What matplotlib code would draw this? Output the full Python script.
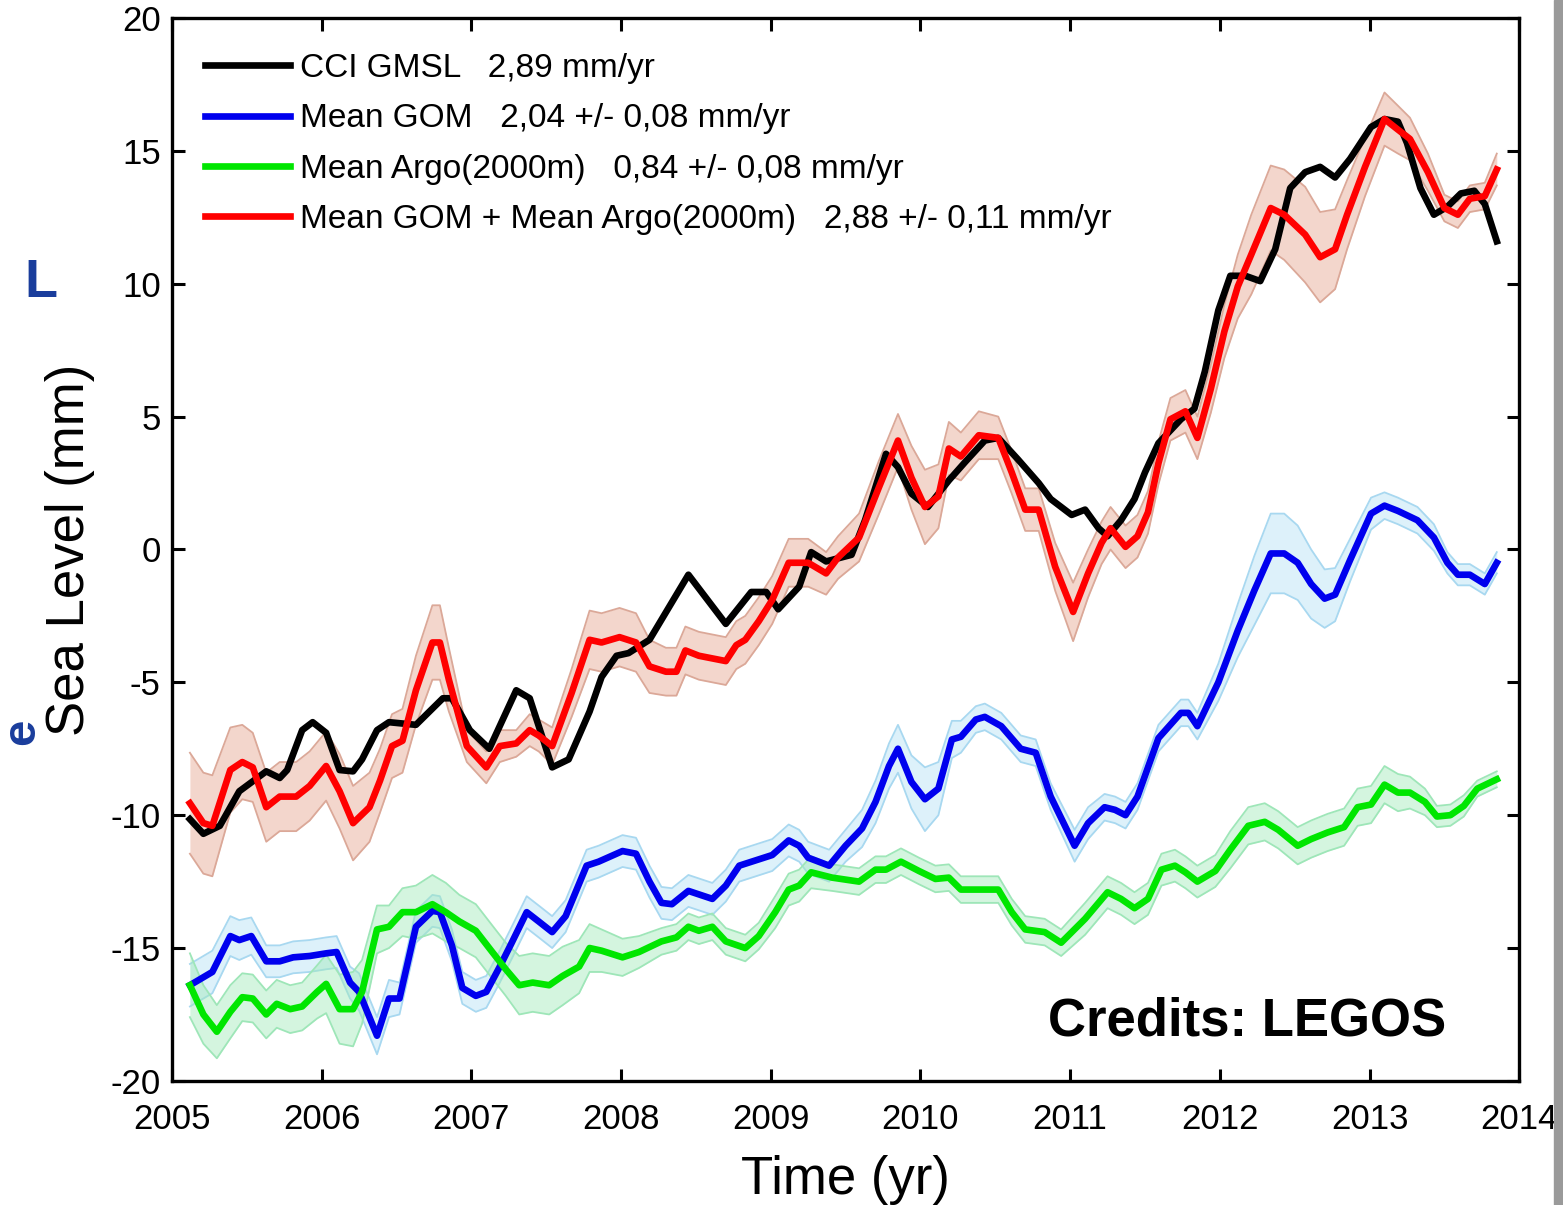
import matplotlib
matplotlib.use("Agg")
import matplotlib.pyplot as plt
from matplotlib.patches import Rectangle
import numpy as np

plt.rcParams['font.family'] = ['Liberation Sans', 'DejaVu Sans']
plt.rcParams['axes.unicode_minus'] = False

# CCI GMSL (black)
t_gmsl = [2005.12, 2005.21, 2005.32, 2005.45, 2005.63, 2005.72, 2005.77, 2005.87, 2005.94, 2006.03,
          2006.12, 2006.21, 2006.27, 2006.37, 2006.45, 2006.63, 2006.81, 2006.87, 2006.99, 2007.12,
          2007.21, 2007.30, 2007.39, 2007.54, 2007.65, 2007.79, 2007.87, 2007.97, 2008.05, 2008.19,
          2008.45, 2008.70, 2008.87, 2008.97, 2009.05, 2009.19, 2009.27, 2009.37, 2009.54, 2009.63,
          2009.77, 2009.85, 2009.94, 2010.05, 2010.19, 2010.30, 2010.43, 2010.52, 2010.65, 2010.79,
          2010.87, 2011.01, 2011.10, 2011.19, 2011.25, 2011.34, 2011.43, 2011.50, 2011.59, 2011.74,
          2011.83, 2011.90, 2011.99, 2012.07, 2012.17, 2012.27, 2012.37, 2012.47, 2012.57, 2012.67,
          2012.77, 2012.87, 2013.01, 2013.10, 2013.19, 2013.25, 2013.34, 2013.43, 2013.52, 2013.61,
          2013.70, 2013.77, 2013.85]
gmsl = [-10.15, -10.7, -10.4, -9.1, -8.35, -8.6, -8.3, -6.8, -6.5, -6.9,
        -8.3, -8.35, -7.9, -6.8, -6.5, -6.6, -5.6, -5.6, -6.8, -7.5,
        -6.4, -5.3, -5.6, -8.2, -7.9, -6.1, -4.8, -4.0, -3.9, -3.4,
        -0.95, -2.8, -1.6, -1.6, -2.25, -1.4, -0.1, -0.45, -0.2, 1.1,
        3.6, 3.1, 2.1, 1.6, 2.6, 3.3, 4.1, 4.2, 3.4, 2.5,
        1.9, 1.3, 1.5, 0.8, 0.5, 1.1, 1.9, 2.9, 4.0, 4.9,
        5.3, 6.7, 9.0, 10.3, 10.3, 10.1, 11.3, 13.6, 14.2, 14.4,
        14.0, 14.7, 15.9, 16.2, 16.1, 15.3, 13.6, 12.6, 12.9, 13.4,
        13.5, 13.0, 11.6]

# Mean GOM + Mean Argo(2000m) (red)
t_sum = [2005.12, 2005.21, 2005.27, 2005.39, 2005.47, 2005.54, 2005.63, 2005.72, 2005.83, 2005.92,
         2006.03, 2006.12, 2006.21, 2006.32, 2006.39, 2006.47, 2006.54, 2006.63, 2006.74, 2006.79,
         2006.85, 2006.97, 2007.10, 2007.19, 2007.30, 2007.39, 2007.45, 2007.54, 2007.67, 2007.79,
         2007.87, 2007.99, 2008.10, 2008.19, 2008.30, 2008.37, 2008.43, 2008.52, 2008.61, 2008.70,
         2008.77, 2008.83, 2008.92, 2009.01, 2009.12, 2009.25, 2009.37, 2009.45, 2009.59, 2009.72,
         2009.85, 2009.94, 2010.03, 2010.12, 2010.19, 2010.27, 2010.39, 2010.52, 2010.61, 2010.70,
         2010.79, 2010.90, 2011.02, 2011.12, 2011.21, 2011.27, 2011.37, 2011.45, 2011.52, 2011.59,
         2011.67, 2011.77, 2011.85, 2011.94, 2012.03, 2012.12, 2012.21, 2012.34, 2012.43, 2012.57,
         2012.67, 2012.77, 2012.85, 2012.97, 2013.10, 2013.19, 2013.27, 2013.39, 2013.50, 2013.59,
         2013.67, 2013.77, 2013.85]
gom_argo = [-9.55, -10.3, -10.4, -8.3, -8.0, -8.2, -9.7, -9.3, -9.3, -8.9,
            -8.15, -9.1, -10.3, -9.7, -8.7, -7.4, -7.2, -5.3, -3.5, -3.5,
            -4.9, -7.4, -8.2, -7.4, -7.3, -6.8, -7.0, -7.4, -5.4, -3.4,
            -3.5, -3.3, -3.5, -4.4, -4.6, -4.6, -3.8, -4.0, -4.1, -4.2,
            -3.6, -3.4, -2.7, -1.9, -0.5, -0.5, -0.9, -0.3, 0.45, 2.3,
            4.1, 2.7, 1.6, 2.0, 3.8, 3.5, 4.3, 4.2, 2.9, 1.5,
            1.5, -0.65, -2.35, -0.9, 0.25, 0.8, 0.1, 0.5, 1.4, 3.25,
            4.9, 5.2, 4.2, 6.05, 8.2, 9.9, 11.1, 12.85, 12.6, 11.85,
            11.0, 11.3, 12.6, 14.4, 16.2, 15.8, 15.45, 14.2, 12.85, 12.6,
            13.2, 13.3, 14.3]
gom_argo_err = [1.9, 1.9, 1.9, 1.6, 1.4, 1.3, 1.3, 1.3, 1.3, 1.3,
                1.3, 1.4, 1.4, 1.3, 1.2, 1.2, 1.2, 1.3, 1.4, 1.4,
                1.2, 0.6, 0.6, 0.6, 0.5, 0.6, 0.6, 0.7, 0.9, 1.1,
                1.1, 1.1, 1.1, 1.0, 0.9, 0.9, 0.9, 0.9, 0.9, 0.9,
                0.9, 0.9, 0.9, 0.9, 0.9, 0.9, 0.8, 0.8, 0.9, 1.0,
                1.0, 1.2, 1.4, 1.2, 1.0, 0.9, 0.9, 0.8, 0.8, 0.8,
                0.8, 0.9, 1.1, 0.9, 0.8, 0.8, 0.8, 0.8, 0.8, 0.8,
                0.8, 0.8, 0.8, 0.9, 1.0, 1.2, 1.5, 1.6, 1.7, 1.8,
                1.7, 1.5, 1.3, 1.1, 1.0, 0.9, 0.8, 0.7, 0.5, 0.5,
                0.5, 0.5, 0.6]

# Mean GOM (blue)
t_gom = [2005.12, 2005.27, 2005.39, 2005.45, 2005.53, 2005.63, 2005.72, 2005.81, 2005.92, 2006.03,
         2006.10, 2006.19, 2006.25, 2006.37, 2006.45, 2006.52, 2006.63, 2006.74, 2006.79, 2006.87,
         2006.94, 2007.03, 2007.10, 2007.19, 2007.27, 2007.37, 2007.45, 2007.54, 2007.63, 2007.77,
         2007.85, 2008.01, 2008.10, 2008.19, 2008.27, 2008.34, 2008.45, 2008.61, 2008.70, 2008.79,
         2008.90, 2009.01, 2009.12, 2009.19, 2009.25, 2009.39, 2009.50, 2009.61, 2009.70, 2009.79,
         2009.85, 2009.94, 2010.03, 2010.12, 2010.21, 2010.27, 2010.37, 2010.43, 2010.54, 2010.67,
         2010.77, 2010.87, 2011.03, 2011.12, 2011.23, 2011.30, 2011.37, 2011.45, 2011.59, 2011.74,
         2011.79, 2011.85, 2011.99, 2012.12, 2012.23, 2012.34, 2012.43, 2012.52, 2012.61, 2012.70,
         2012.77, 2012.87, 2013.01, 2013.10, 2013.19, 2013.32, 2013.43, 2013.52, 2013.59, 2013.67,
         2013.77, 2013.85]
gom = [-16.4, -15.9, -14.55, -14.7, -14.55, -15.5, -15.5, -15.35, -15.3, -15.2,
       -15.15, -16.3, -16.65, -18.3, -16.9, -16.9, -14.2, -13.6, -13.65, -14.9,
       -16.5, -16.8, -16.65, -15.7, -14.8, -13.65, -14.0, -14.4, -13.8, -11.9,
       -11.75, -11.35, -11.45, -12.5, -13.3, -13.35, -12.85, -13.15, -12.65, -11.9,
       -11.7, -11.5, -10.95, -11.15, -11.6, -11.9, -11.15, -10.5, -9.5, -8.15,
       -7.5, -8.75, -9.4, -9.0, -7.15, -7.05, -6.4, -6.3, -6.65, -7.5,
       -7.65, -9.3, -11.15, -10.3, -9.7, -9.8, -10.0, -9.3, -7.1, -6.15,
       -6.15, -6.65, -5.0, -3.05, -1.55, -0.15, -0.15, -0.5, -1.3, -1.85,
       -1.7, -0.4, 1.35, 1.65, 1.45, 1.1, 0.45, -0.5, -0.95, -0.95,
       -1.3, -0.5]
gom_err = [0.8, 0.8, 0.75, 0.75, 0.7, 0.6, 0.6, 0.6, 0.6, 0.6,
           0.6, 0.6, 0.7, 0.7, 0.7, 0.6, 0.6, 0.6, 0.6, 0.6,
           0.6, 0.6, 0.6, 0.6, 0.6, 0.6, 0.6, 0.6, 0.6, 0.6,
           0.6, 0.6, 0.6, 0.6, 0.6, 0.6, 0.6, 0.6, 0.6, 0.6,
           0.6, 0.6, 0.6, 0.6, 0.6, 0.6, 0.6, 0.7, 0.8, 0.85,
           0.9, 1.0, 1.2, 1.0, 0.7, 0.6, 0.5, 0.5, 0.5, 0.5,
           0.5, 0.5, 0.6, 0.6, 0.5, 0.5, 0.5, 0.5, 0.5, 0.5,
           0.5, 0.5, 0.7, 1.0, 1.3, 1.5, 1.5, 1.4, 1.3, 1.1,
           1.0, 0.8, 0.6, 0.5, 0.5, 0.5, 0.5, 0.4, 0.4, 0.4,
           0.4, 0.4]

# Mean Argo(2000m) (green)
t_argo = [2005.12, 2005.21, 2005.30, 2005.39, 2005.47, 2005.54, 2005.63, 2005.70, 2005.79, 2005.87,
          2005.97, 2006.03, 2006.12, 2006.21, 2006.27, 2006.37, 2006.45, 2006.54, 2006.63, 2006.74,
          2006.83, 2006.92, 2007.03, 2007.14, 2007.23, 2007.32, 2007.41, 2007.52, 2007.61, 2007.72,
          2007.79, 2007.87, 2008.01, 2008.12, 2008.27, 2008.37, 2008.45, 2008.52, 2008.61, 2008.70,
          2008.83, 2008.92, 2009.03, 2009.12, 2009.19, 2009.27, 2009.41, 2009.59, 2009.70, 2009.77,
          2009.87, 2009.99, 2010.10, 2010.19, 2010.27, 2010.37, 2010.52, 2010.61, 2010.70, 2010.83,
          2010.94, 2011.10, 2011.25, 2011.34, 2011.43, 2011.52, 2011.61, 2011.70, 2011.77, 2011.85,
          2011.97, 2012.07, 2012.19, 2012.30, 2012.39, 2012.52, 2012.61, 2012.72, 2012.83, 2012.92,
          2013.01, 2013.10, 2013.19, 2013.27, 2013.37, 2013.45, 2013.54, 2013.63, 2013.72, 2013.85]
argo = [-16.4, -17.5, -18.15, -17.4, -16.85, -16.9, -17.5, -17.1, -17.3, -17.2,
        -16.65, -16.35, -17.3, -17.3, -16.65, -14.3, -14.2, -13.65, -13.65, -13.35,
        -13.65, -14.0, -14.35, -15.15, -15.8, -16.4, -16.3, -16.4, -16.05, -15.7,
        -15.0, -15.1, -15.35, -15.15, -14.75, -14.6, -14.2, -14.35, -14.2, -14.75,
        -15.0, -14.55, -13.65, -12.8, -12.65, -12.15, -12.35, -12.5, -12.05, -12.05,
        -11.75, -12.1, -12.4, -12.35, -12.8, -12.8, -12.8, -13.65, -14.3, -14.4,
        -14.8, -13.9, -12.9, -13.15, -13.5, -13.15, -12.05, -11.9, -12.15, -12.5,
        -12.1, -11.3, -10.4, -10.25, -10.55, -11.15, -10.9, -10.65, -10.45, -9.7,
        -9.6, -8.85, -9.15, -9.15, -9.5, -10.05, -10.0, -9.65, -9.0, -8.65]
argo_err = [1.2, 1.1, 1.0, 1.0, 0.9, 0.9, 0.9, 0.9, 0.9, 0.9,
            1.0, 1.1, 1.3, 1.4, 1.2, 0.9, 0.8, 0.9, 1.0, 1.1,
            1.1, 1.0, 1.0, 1.0, 1.0, 1.1, 1.1, 1.1, 1.1, 1.0,
            0.9, 0.8, 0.7, 0.6, 0.5, 0.5, 0.5, 0.5, 0.5, 0.5,
            0.5, 0.5, 0.6, 0.6, 0.6, 0.6, 0.5, 0.5, 0.5, 0.5,
            0.5, 0.5, 0.5, 0.5, 0.5, 0.5, 0.5, 0.5, 0.5, 0.5,
            0.5, 0.6, 0.6, 0.6, 0.6, 0.6, 0.6, 0.6, 0.6, 0.6,
            0.6, 0.7, 0.7, 0.7, 0.7, 0.7, 0.7, 0.7, 0.7, 0.7,
            0.7, 0.7, 0.7, 0.6, 0.5, 0.4, 0.4, 0.4, 0.3, 0.3]

labels = ['CCI GMSL   2,89 mm/yr',
          'Mean GOM   2,04 +/- 0,08 mm/yr',
          'Mean Argo(2000m)   0,84 +/- 0,08 mm/yr',
          'Mean GOM + Mean Argo(2000m)   2,88 +/- 0,11 mm/yr']

fig = plt.figure(figsize=(15.63, 12.05), dpi=100)
ax = fig.add_axes([0.110, 0.103, 0.862, 0.882])

lw = 4.8

def band(t, v, e, face, edge):
    v = np.array(v); e = np.array(e)
    ax.fill_between(t, v - e, v + e, color=face, alpha=0.45, lw=0, zorder=2)
    ax.plot(t, v - e, color=edge, lw=1.3, zorder=2)
    ax.plot(t, v + e, color=edge, lw=1.3, zorder=2)

l_black, = ax.plot(t_gmsl, gmsl, color='black', lw=lw, zorder=3, label=labels[0])
band(t_sum, gom_argo, gom_argo_err, '#e6a48e', '#dba898')
l_red, = ax.plot(t_sum, gom_argo, color='#ff0000', lw=lw, zorder=4, label=labels[3])
band(t_gom, gom, gom_err, '#b5e0f5', '#a8d8f0')
l_blue, = ax.plot(t_gom, gom, color='#0000ee', lw=lw, zorder=4, label=labels[1])
band(t_argo, argo, argo_err, '#a0eab8', '#9ee6b8')
l_green, = ax.plot(t_argo, argo, color='#00e600', lw=lw, zorder=4, label=labels[2])

ax.set_xlim(2005, 2014)
ax.set_ylim(-20, 20)
ax.set_xticks(range(2005, 2015))
ax.set_yticks(range(-20, 21, 5))
ax.tick_params(direction='in', length=9, width=2.2, top=True, right=True,
               labelsize=25, colors='black')
ax.tick_params(axis='x', pad=16)
ax.tick_params(axis='y', pad=8)
for s in ax.spines.values():
    s.set_linewidth(2.4)

ax.set_xlabel('Time (yr)', fontsize=38)
ax.set_ylabel('Sea Level (mm)', fontsize=38)
ax.xaxis.set_label_coords(0.5, -0.070)
ax.yaxis.set_label_coords(-0.057, 0.5)

leg = ax.legend(handles=[l_black, l_blue, l_green, l_red], loc='upper left',
                bbox_to_anchor=(0.0245, 0.967), frameon=False, fontsize=24,
                handlelength=2.55, handletextpad=0.3, labelspacing=0.58,
                borderpad=0, borderaxespad=0)

ax.text(0.650, 0.043, 'Credits: LEGOS', transform=ax.transAxes, fontsize=38,
        fontweight='bold', ha='left', va='baseline')

# leftover slide text at the left edge and the grey strip on the right
fig.text(57 / 1563, 1 - 297 / 1205, 'L', color='#1a3d9c', fontsize=39,
         fontweight='bold', ha='right', va='baseline')
fig.text(22 / 1563, 1 - 732 / 1205, 'e', color='#1a3d9c', fontsize=34,
         fontweight='bold', rotation=90, ha='center', va='center')
fig.patches.append(Rectangle((1554 / 1563, 0), 9 / 1563, 1, transform=fig.transFigure,
                             color='#9a9a9a', zorder=0))

fig.savefig('out.png', dpi=100)
